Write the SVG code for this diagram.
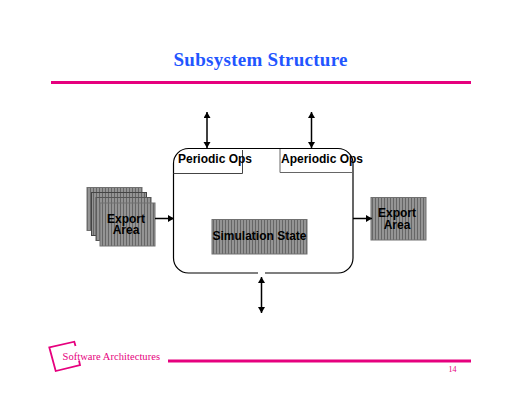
<svg xmlns="http://www.w3.org/2000/svg" width="520" height="402" viewBox="0 0 520 402">
<style>
.hatch{fill:url(#stripes);stroke:#707070;stroke-width:1}
.lbl{font-family:"Liberation Sans",Arial,sans-serif;font-weight:bold;font-size:12px;fill:#000;text-anchor:middle}
.conn{fill:none;stroke:#000;stroke-width:1.5}
.pink{stroke:#e6007e;fill:none}
</style>
<defs>
<pattern id="stripes" width="3" height="3" patternUnits="userSpaceOnUse">
<rect width="3" height="3" fill="#949494"/><rect width="1" height="3" fill="#666"/>
</pattern>
<marker id="head" markerWidth="8" markerHeight="8" refX="6" refY="3.5" orient="auto-start-reverse" markerUnits="userSpaceOnUse">
<path d="M0,0 L6,3.5 L0,7 Z" fill="#000"/>
</marker>
</defs>
<rect width="520" height="402" fill="#fff"/>
<text id="title" x="260.5" y="66" text-anchor="middle" font-family="'Liberation Serif','Times New Roman',serif" font-weight="bold" font-size="19px" fill="#2255ff" textLength="174" lengthAdjust="spacing">Subsystem Structure</text>
<line class="pink" x1="51" y1="82.5" x2="471" y2="82.5" stroke-width="3"/>
<g id="subsystem">
<rect x="173.5" y="148.5" width="179.5" height="124.5" rx="15" ry="15" fill="#fff" stroke="#000" stroke-width="1.2"/>
<path d="M173.5,173.5 H242.5 V150" fill="none" stroke="#444" stroke-width="1"/>
<path d="M280,149 V172.5 H353" fill="none" stroke="#666" stroke-width="1"/>
<rect x="258" y="271" width="7" height="4" fill="#fff"/>
<text class="lbl" x="215" y="163">Periodic Ops</text>
<text class="lbl" x="322" y="163">Aperiodic Ops</text>
</g>
<g id="simulation-state">
<rect class="hatch" x="212" y="219.5" width="95" height="34.5"/>
<text class="lbl" x="259.5" y="240">Simulation State</text>
</g>
<g id="export-stack">
<rect class="hatch" x="87" y="187.5" width="55" height="43"/>
<rect class="hatch" x="91.5" y="192.5" width="55" height="43" style="stroke:#444"/>
<rect class="hatch" x="96" y="197.5" width="55" height="43" style="stroke:#555"/>
<rect class="hatch" x="100" y="203" width="55" height="43"/>
<text class="lbl" x="126" y="222.5">Export</text>
<text class="lbl" x="126" y="234">Area</text>
</g>
<g id="export-right">
<rect class="hatch" x="371" y="197.5" width="55" height="42.5"/>
<text class="lbl" x="397" y="217">Export</text>
<text class="lbl" x="397" y="228.5">Area</text>
</g>
<g id="connectors">
<line class="conn" x1="207" y1="112" x2="207" y2="148" marker-start="url(#head)" marker-end="url(#head)"/>
<line class="conn" x1="311.5" y1="112" x2="311.5" y2="148" marker-start="url(#head)" marker-end="url(#head)"/>
<line class="conn" x1="261.5" y1="277" x2="261.5" y2="313" marker-start="url(#head)" marker-end="url(#head)"/>
<line class="conn" x1="155" y1="218.5" x2="174" y2="218.5" marker-end="url(#head)"/>
<line class="conn" x1="353" y1="218.5" x2="372" y2="218.5" marker-end="url(#head)"/>
</g>
<g id="footer">
<path class="pink" stroke-width="1.8" d="M75.5,346 L74.3,341.7 L49.3,347.3 L55.7,371 L80,365 L79,360.5"/>
<text x="62.5" y="359.5" font-family="'Liberation Serif','Times New Roman',serif" font-size="10.5px" fill="#e6007e" textLength="97.5" lengthAdjust="spacing">Software Architectures</text>
<line class="pink" x1="168" y1="361" x2="471" y2="361" stroke-width="3"/>
<text x="452.5" y="372" text-anchor="middle" font-family="'Liberation Serif','Times New Roman',serif" font-size="8px" fill="#e6007e">14</text>
</g>
</svg>
